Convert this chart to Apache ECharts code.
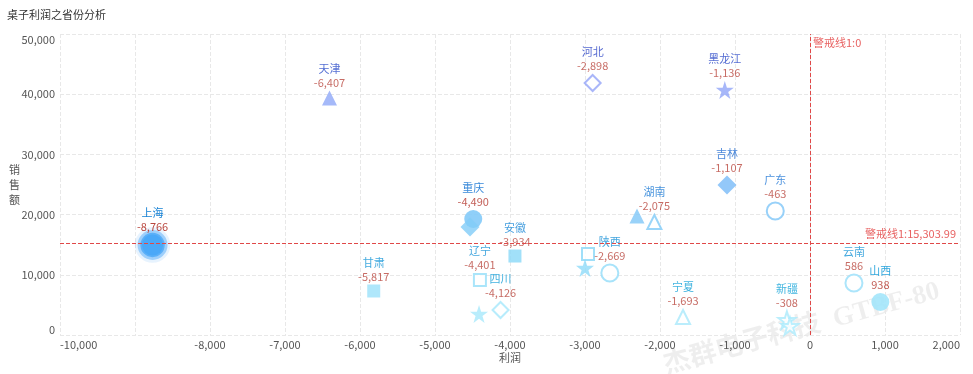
<!DOCTYPE html>
<html>
<head>
<meta charset="utf-8">
<script src="https://cdn.jsdelivr.net/npm/echarts@6/dist/echarts.min.js"></script>
<style>html,body{margin:0;padding:0;background:#fff}#c{width:973px;height:374px}</style>
</head>
<body>
<div id="c"></div>
<script>
// ---------- data ----------
const provinces = ['上海','天津','甘肃','重庆','北京','安徽','辽宁','四川','浙江','陕西','江苏','广西','河北','黑龙江','吉林','湖南','湖北','广东','宁夏','新疆','青海','云南','山西'];
const profit    = [-8766,-6407,-5817,-4490,-4533,-3934,-4401,-4126,-4413,-2669,-2960,-3000,-2898,-1136,-1107,-2075,-2307,-463,-1693,-308,-267,586,938];
const sales     = [14950,39370,7310,19270,17940,13120,9140,4150,3490,10300,13450,11130,41860,40700,24920,18770,19770,20600,2990,2490,1500,8640,5480];
const xTicks = {min:-10000, max:2000, step:1000};
const yTicks = {min:0, max:50000, step:10000};
const warnX = 0;
const warnY = 15303.99;

// ---------- styling ----------
const FONT = "'Noto Sans CJK SC','Noto Sans',sans-serif";
const STAR = 'path://M50,2 L61.2,36.3 L97.6,36.3 L68.2,57.6 L79.4,91.9 L50,70.7 L20.6,91.9 L31.8,57.6 L2.4,36.3 L38.8,36.3 Z';
const groups = [
  {key:'effect', names:['上海']},
  {key:'circle', symbol:'circle', size:18, opacity:0.88, names:['重庆','山西']},
  {key:'triangle', symbol:'triangle', size:15, names:['天津','湖北']},
  {key:'rect', symbol:'rect', size:13, names:['甘肃','安徽']},
  {key:'diamond', symbol:'diamond', size:19, names:['北京','吉林']},
  {key:'star', symbol:STAR, size:18, names:['浙江','广西','黑龙江']},
  {key:'emptyCircle', symbol:'emptyCircle', size:17, names:['陕西','广东','云南']},
  {key:'emptyRect', symbol:'emptyRect', size:12, names:['辽宁','江苏']},
  {key:'emptyDiamond', symbol:'emptyDiamond', size:16, names:['四川','河北']},
  {key:'emptyTriangle', symbol:'emptyTriangle', size:14, names:['湖南','宁夏']},
  {key:'emptyStar', symbol:'empty'+STAR, size:17, names:['新疆','青海']}
];
const noLabel = new Set(['北京','浙江','江苏','广西','湖北','青海']);

function lerpColor(a, b, t){
  const pa=[1,3,5].map(i=>parseInt(a.substr(i,2),16));
  const pb=[1,3,5].map(i=>parseInt(b.substr(i,2),16));
  return 'rgb('+pa.map((v,i)=>Math.round(v+(pb[i]-v)*t)).join(',')+')';
}
function nameColor(s){
  const t = Math.min(1, s/42000);
  return t < 0.5 ? lerpColor('#0fa8d8','#1a72d4', t/0.5) : lerpColor('#1a72d4','#2a44c6',(t-0.5)/0.5);
}
const fmt = v => v.toLocaleString('en-US');

function itemOf(name){
  const i = provinces.indexOf(name);
  return {
    name,
    value:[profit[i], sales[i]],
    label:{
      show: !noLabel.has(name),
      formatter:'{n|'+name+'}\n{v|'+fmt(profit[i])+'}',
      rich:{
        n:{color:nameColor(sales[i]), fontSize:11, lineHeight:14, fontFamily:FONT},
        v:{color:'#b9473f', fontSize:11, lineHeight:14, fontFamily:FONT}
      }
    }
  };
}

const labelBase = {show:true, position:'top', distance:1, fontSize:11, fontFamily:FONT};

const series = groups.map((g, gi) => {
  if (g.key === 'effect') {
    return {
      type:'effectScatter', name:g.key, symbolSize:21, z:3,
      itemStyle:{color:'#4aa8f8'},
      rippleEffect:{brushType:'fill', scale:1.8, period:4, number:3},
      label:labelBase,
      data:g.names.map(itemOf),
      markLine:{
        silent:true, symbol:'none', animation:false,
        lineStyle:{type:'dashed', color:'#e04848', width:1},
        label:{color:'#e86262', fontSize:11, fontFamily:FONT},
        data:[
          {xAxis:warnX, label:{formatter:'警戒线1:'+fmt(warnX), position:'end', align:'left', distance:[0,-14], padding:[0,0,0,3]}},
          {yAxis:warnY, label:{formatter:'警戒线1:'+fmt(warnY), position:'insideEndTop', distance:4}}
        ]
      }
    };
  }
  return {
    type:'scatter', name:g.key, symbol:g.symbol, symbolSize:g.size,
    itemStyle: g.opacity ? {opacity:g.opacity} : {},
    label:labelBase,
    data:g.names.map(itemOf)
  };
});

const chart = echarts.init(document.getElementById('c'));
chart.setOption({
  backgroundColor:'#fff',
  animation:false,
  textStyle:{fontFamily:FONT},
  title:{text:'桌子利润之省份分析', left:2, top:4, textStyle:{fontSize:11, fontWeight:'normal', color:'#333', fontFamily:FONT}},
  grid:{left:60, right:13, top:34, bottom:39},
  visualMap:{
    show:false, type:'continuous', dimension:1, min:0, max:42000,
    seriesIndex: series.map((s,i)=>i).filter(i=>i>0),
    inRange:{color:['#b2eefc','#86d6f8','#74b2f8','#94a4f8']}
  },
  xAxis:{
    type:'value', min:xTicks.min, max:xTicks.max, interval:xTicks.step,
    name:'利润', nameLocation:'middle', nameGap:17, nameMoveOverlap:false,
    nameTextStyle:{color:'#555', fontSize:11, fontFamily:FONT},
    axisLine:{show:false}, axisTick:{show:false},
    splitLine:{lineStyle:{type:'dashed', color:'#e8e8e8'}},
    axisLabel:{color:'#555', fontSize:11, margin:4, fontFamily:FONT,
      alignMinLabel:'left', alignMaxLabel:'right',
      formatter:v => v === xTicks.min + xTicks.step ? '' : fmt(v)}
  },
  yAxis:{
    type:'value', min:yTicks.min, max:yTicks.max, interval:yTicks.step,
    name:'销\n售\n额', nameLocation:'middle', nameGap:40, nameRotate:0, nameMoveOverlap:false,
    nameTextStyle:{color:'#555', fontSize:11, lineHeight:15, fontFamily:FONT},
    axisLine:{show:false}, axisTick:{show:false},
    splitLine:{lineStyle:{type:'dashed', color:'#e8e8e8'}},
    axisLabel:{color:'#555', fontSize:11, margin:5, fontFamily:FONT,
      verticalAlignMinLabel:'bottom', verticalAlignMaxLabel:'top',
      formatter:v => fmt(v)}
  },
  graphic:[{
    type:'text', x:668, y:380, rotation:0.27, silent:true, z:-1,
    style:{text:'杰群电子科技  GTBF-80', fill:'rgba(0,0,0,0.065)', font:"bold 27px 'Liberation Serif','Noto Sans CJK SC',serif", textVerticalAlign:'bottom'}
  }],
  series
});
</script>
</body>
</html>
